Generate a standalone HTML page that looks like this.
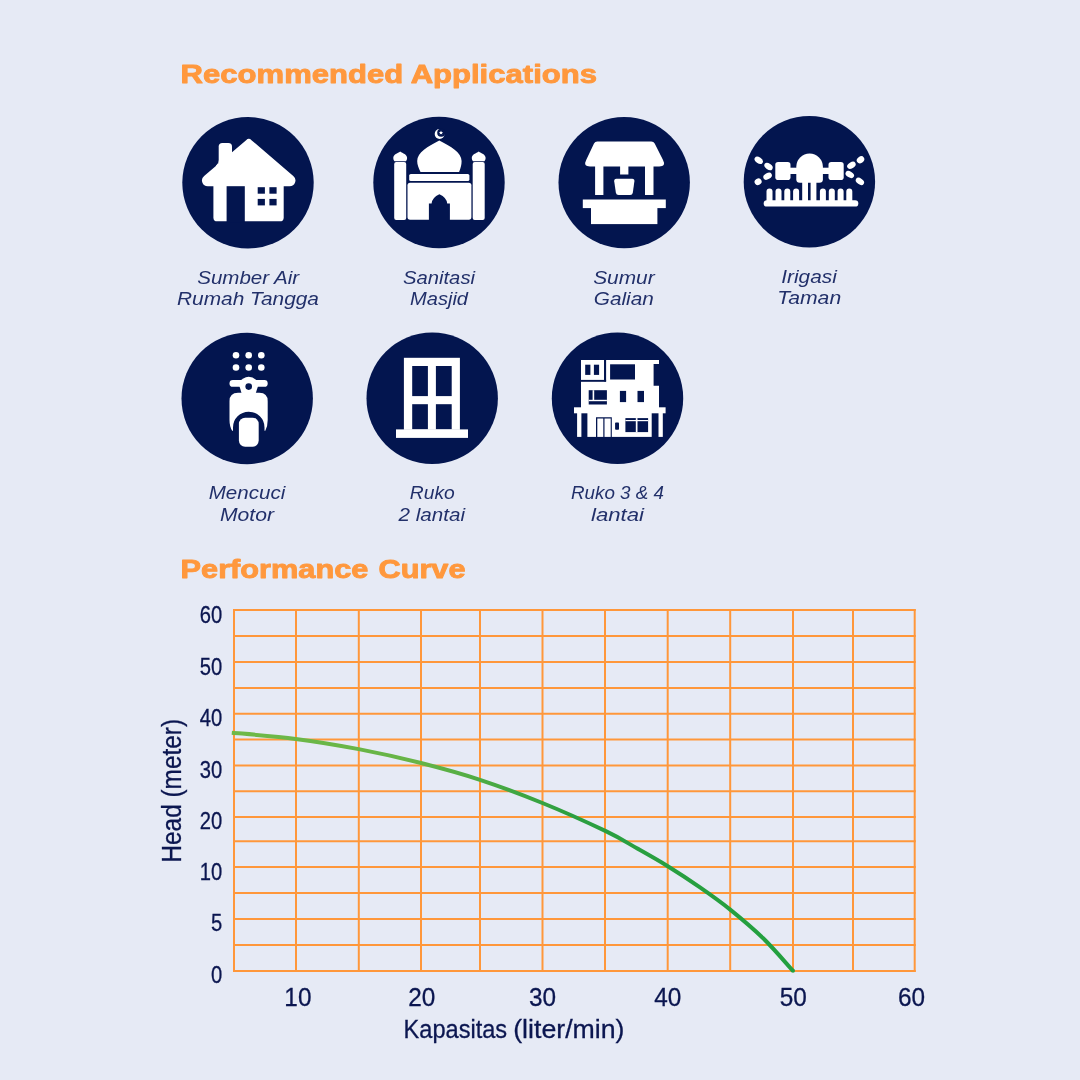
<!DOCTYPE html>
<html lang="id"><head><meta charset="utf-8"><title>Recommended Applications</title>
<style>
html,body{margin:0;padding:0;background:#E6EAF5;}
body{width:1080px;height:1080px;overflow:hidden;font-family:"Liberation Sans",sans-serif;}
svg{display:block;}
text{font-family:"Liberation Sans",sans-serif;}
.h{font-weight:bold;fill:#FF983D;stroke:#FF983D;stroke-width:0.9px;stroke-linejoin:round;}
.lb{font-style:italic;fill:#22306A;text-anchor:middle;}
.ax{fill:#0B1650;stroke:#0B1650;stroke-width:0.3px;}
.w{fill:#fff;}
.d{fill:#03154F;}
</style></head><body>
<svg width="1080" height="1080" viewBox="0 0 1080 1080">
<rect width="1080" height="1080" fill="#E6EAF5"/>
<text class="h" transform="translate(180.6,83.2) scale(1.218,1.0)" font-size="25.5">Recommended Applications</text>
<text class="h" transform="translate(180.6,577.5) scale(1.205,1.0)" font-size="25.5" word-spacing="1.3">Performance Curve</text>
<circle cx="248" cy="182.8" r="65.7" fill="#03154F"/>
<circle cx="439" cy="182.5" r="65.7" fill="#03154F"/>
<circle cx="624.2" cy="182.6" r="65.7" fill="#03154F"/>
<circle cx="809.4" cy="181.7" r="65.7" fill="#03154F"/>
<circle cx="247.2" cy="398.5" r="65.7" fill="#03154F"/>
<circle cx="432.2" cy="398.2" r="65.7" fill="#03154F"/>
<circle cx="617.5" cy="398.2" r="65.7" fill="#03154F"/>
<g id="house">
<path class="w" d="M246.1,140.2 Q248.800,137.5 251.5,140.200 L293.27,175.9 A5.8,5.8 0 0 1 289.500,186.2 L207.900,186.2 A5.8,5.8 0 0 1 204.130,175.900 Z"/>
<rect class="w" x="218.7" y="143" width="13.3" height="25" rx="3.6"/>
<path class="w" d="M218.800,160 Q218.800,163.400 215.800,165.900 L218.800,168 Z"/>
<path class="w" d="M213.4,185 H283.7 V217.4 Q283.7,221.3 279.8,221.3 H217.3 Q213.4,221.3 213.4,217.4 Z"/>
<rect class="d" x="226.6" y="186.2" width="18.2" height="36"/>
<rect class="d" x="257.7" y="187.2" width="7.2" height="6.5"/><rect class="d" x="269.4" y="187.2" width="7.2" height="6.5"/>
<rect class="d" x="257.7" y="198.9" width="7.2" height="6.5"/><rect class="d" x="269.4" y="198.9" width="7.2" height="6.5"/>
</g>
<g id="mosque">
<rect class="w" x="394.2" y="161.9" width="12" height="58" rx="2"/>
<rect class="w" x="472.7" y="161.9" width="12" height="58" rx="2"/>
<path class="w" d="M400.2,151.6 C397.6,153.3 393.3,154.8 393.3,157.8 C393.3,159.3 393.7,160.4 394.5,161.2 H405.9 C406.7,160.4 407.1,159.3 407.1,157.8 C407.1,154.8 402.8,153.3 400.2,151.6 Z"/>
<path class="w" d="M478.7,151.6 C476.1,153.3 471.8,154.8 471.8,157.8 C471.8,159.3 472.2,160.4 473.0,161.2 H484.4 C485.2,160.4 485.6,159.3 485.6,157.8 C485.6,154.8 481.3,153.3 478.7,151.6 Z"/>
<path class="w" d="M420.5,172 C418.5,168 417.2,164.500 417.2,161 C417.2,152 428,146.5 439.3,140.400 C450.6,146.5 461.6,152 461.6,161 C461.6,164.5 460.800,168 459.1,172 Z"/>
<circle class="w" cx="439.6" cy="134" r="4.9"/><circle class="d" cx="441.2" cy="132.700" r="4"/>
<path class="w" d="M441.00,130.40 L441.59,131.89 L443.19,131.99 L441.95,133.01 L442.35,134.56 L441.00,133.70 L439.65,134.56 L440.05,133.01 L438.81,131.99 L440.41,131.89 Z"/>
<rect class="w" x="409.2" y="174" width="60.2" height="7" rx="1.6"/>
<rect class="w" x="407.5" y="182.7" width="63.9" height="37" rx="2.6"/>
<path class="d" d="M428.9,221 V203.6 H431.6 Q432,197.5 439.4,194.2 Q446.8,197.5 447.2,203.6 H449.9 V221 Z"/>
</g>
<g id="well">
<path class="w" d="M597.3,141.6 H651.3 Q653.6,141.6 654.7,143.6 L662.9,159.8 Q666.4,166.5 659.300,166.5 H589.9 Q582.8,166.5 586.3,159.8 L594,143.6 Q595,141.6 597.3,141.6 Z"/>
<rect class="w" x="595.1" y="166" width="8.3" height="29"/>
<rect class="w" x="645" y="166" width="8.5" height="29"/>
<rect class="w" x="620.1" y="166" width="8.3" height="8.5"/>
<path class="w" d="M616.4,178.8 H632.2 Q634.7,178.8 634.4,181.3 L632.8,192.7 Q632.4,195 630.1,195 H618.6 Q616.3,195 615.9,192.7 L614.2,181.3 Q613.9,178.8 616.4,178.8 Z"/>
<rect class="w" x="582.8" y="199.5" width="83" height="8.6"/>
<rect class="w" x="591" y="207.9" width="66.4" height="16.2"/>
</g>
<g id="sprinkler">
<rect class="w" x="763.7" y="200.2" width="94.6" height="6.4" rx="3.2"/>
<path class="w" d="M766.5,203 V191.5 A3,3 0 0 1 772.5,191.5 V203 Z"/>
<path class="w" d="M775.5,203 V191.5 A3,3 0 0 1 781.5,191.5 V203 Z"/>
<path class="w" d="M784.3,203 V191.5 A3,3 0 0 1 790.3,191.5 V203 Z"/>
<path class="w" d="M793.1,203 V191.5 A3,3 0 0 1 799.1,191.5 V203 Z"/>
<path class="w" d="M819.9,203 V191.5 A3,3 0 0 1 825.9,191.5 V203 Z"/>
<path class="w" d="M828.8,203 V191.5 A3,3 0 0 1 834.8,191.5 V203 Z"/>
<path class="w" d="M837.6,203 V191.5 A3,3 0 0 1 843.6,191.5 V203 Z"/>
<path class="w" d="M846.3,203 V191.5 A3,3 0 0 1 852.3,191.5 V203 Z"/>
<rect class="w" x="802.2" y="180" width="5.8" height="22"/><rect class="w" x="810.6" y="180" width="5.8" height="22"/>
<path class="w" d="M796.3,166.8 A13.3,13.3 0 0 1 822.9,166.8 V179.200 Q822.9,182.7 819.4,182.7 H799.8 Q796.3,182.7 796.3,179.2 Z"/>
<rect class="w" x="788" y="167.7" width="43" height="6.3"/>
<rect class="w" x="775.3" y="161.9" width="15.2" height="18.2" rx="2.8"/>
<rect class="w" x="828.5" y="161.9" width="15.2" height="18.2" rx="2.8"/>
<ellipse class="w" cx="758.7" cy="160.3" rx="4.6" ry="3.0" transform="rotate(35 758.7 160.3)"/>
<ellipse class="w" cx="768.5" cy="166.5" rx="4.6" ry="3.0" transform="rotate(35 768.5 166.5)"/>
<ellipse class="w" cx="767.6" cy="176.2" rx="4.6" ry="3.0" transform="rotate(-30 767.6 176.2)"/>
<ellipse class="w" cx="758.1" cy="181.7" rx="3.6" ry="3.2" transform="rotate(-30 758.1 181.7)"/>
<ellipse class="w" cx="860.5" cy="159.8" rx="4.0" ry="3.2" transform="rotate(-35 860.5 159.8)"/>
<ellipse class="w" cx="851.4" cy="165.3" rx="4.6" ry="3.0" transform="rotate(-30 851.4 165.3)"/>
<ellipse class="w" cx="849.8" cy="174.5" rx="4.6" ry="3.0" transform="rotate(30 849.8 174.5)"/>
<ellipse class="w" cx="859.9" cy="181.4" rx="4.6" ry="3.0" transform="rotate(35 859.9 181.4)"/>
</g>
<g id="scooter">
<circle class="w" cx="236" cy="355.2" r="3.3"/>
<circle class="w" cx="236" cy="367.5" r="3.3"/>
<circle class="w" cx="248.7" cy="355.2" r="3.3"/>
<circle class="w" cx="248.7" cy="367.5" r="3.3"/>
<circle class="w" cx="261.3" cy="355.2" r="3.3"/>
<circle class="w" cx="261.3" cy="367.5" r="3.3"/>
<rect class="w" x="229.5" y="380.1" width="38.2" height="6.700" rx="3.35"/>
<path class="w" d="M238.5,383 Q243,377 248.7,376.8 Q254.500,377 259,383 L255.5,394 H241.800 Z"/>
<circle class="d" cx="248.7" cy="386.6" r="3.3"/>
<path class="w" d="M238,392.8 H259.4 Q267.700,392.800 267.700,401.300 V420 Q267.7,426.500 265.300,430.800 L264.5,430.800 V427.4 A15.75,15.75 0 0 0 233,427.400 V430.8 L232.2,430.800 Q229.500,426.500 229.500,420 V401.3 Q229.5,392.8 238,392.8 Z"/>
<rect class="w" x="238.9" y="417.7" width="19.8" height="29.1" rx="6.2"/>
</g>
<g id="window">
<rect class="w" x="403.9" y="357.8" width="56" height="72"/>
<rect class="w" x="396" y="429.4" width="72" height="8.5"/>
<rect class="d" x="412.2" y="366" width="15.7" height="30.1"/><rect class="d" x="435.9" y="366" width="15.8" height="30.1"/>
<rect class="d" x="412.2" y="404.2" width="15.7" height="24.900"/><rect class="d" x="435.9" y="404.2" width="15.8" height="24.9"/>
</g>
<g id="building">
<rect class="w" x="581" y="360" width="23.2" height="21"/>
<rect class="d" x="585.2" y="364.7" width="5.2" height="10.2"/><rect class="d" x="593.9" y="364.7" width="5.2" height="10.2"/>
<path class="w" d="M606,360 H659 V363.9 H653.600 V385.8 H659 V408 H581 V380.5 H606 Z"/>
<rect class="d" x="610.1" y="364.3" width="24.9" height="15.2"/>
<rect class="d" x="581" y="379.9" width="25.1" height="1.9"/><rect class="d" x="604.1" y="359" width="2" height="22.5"/>
<rect class="d" x="588.7" y="390.2" width="18.2" height="14.3"/>
<rect class="w" x="592.6" y="390.2" width="1.6" height="10"/><rect class="w" x="588.7" y="399.8" width="18.2" height="1.4"/>
<rect class="d" x="619.9" y="390.9" width="6.2" height="11.2"/><rect class="d" x="637.5" y="390.9" width="6.5" height="11.2"/>
<rect class="w" x="574" y="407.3" width="91.600" height="6"/>
<rect class="w" x="577.1" y="413" width="4.3" height="23.900"/><rect class="w" x="658.5" y="413" width="4.3" height="23.9"/>
<rect class="w" x="587.4" y="413" width="64.300" height="23.9"/>
<path class="d" fill-rule="evenodd" d="M596,417.2 H611.8 V436.9 H596 Z M597.300,418.500 V436.900 H603.300 V418.500 Z M604.500,418.500 V436.900 H610.700 V418.500 Z"/>
<rect class="d" x="615.1" y="422.4" width="3.9" height="7.4" rx="0.8"/>
<rect class="d" x="625.4" y="418.100" width="22.7" height="14"/>
<rect class="w" x="635.8" y="418.1" width="1.700" height="14"/><rect class="w" x="625.4" y="420" width="22.7" height="1.2"/>
</g>
<text class="lb" x="248.2" y="284" font-size="18" textLength="102" lengthAdjust="spacingAndGlyphs">Sumber Air</text>
<text class="lb" x="248" y="305" font-size="18" textLength="142" lengthAdjust="spacingAndGlyphs">Rumah Tangga</text>
<text class="lb" x="439" y="284" font-size="18" textLength="72" lengthAdjust="spacingAndGlyphs">Sanitasi</text>
<text class="lb" x="439" y="305" font-size="18" textLength="58" lengthAdjust="spacingAndGlyphs">Masjid</text>
<text class="lb" x="623.9" y="284" font-size="18" textLength="61.5" lengthAdjust="spacingAndGlyphs">Sumur</text>
<text class="lb" x="623.8" y="305" font-size="18" textLength="60" lengthAdjust="spacingAndGlyphs">Galian</text>
<text class="lb" x="809" y="283" font-size="18" textLength="55.5" lengthAdjust="spacingAndGlyphs">Irigasi</text>
<text class="lb" x="809.2" y="304.3" font-size="18" textLength="64" lengthAdjust="spacingAndGlyphs">Taman</text>
<text class="lb" x="247" y="499.4" font-size="18" textLength="76.5" lengthAdjust="spacingAndGlyphs">Mencuci</text>
<text class="lb" x="247" y="520.5" font-size="18" textLength="54" lengthAdjust="spacingAndGlyphs">Motor</text>
<text class="lb" x="432.3" y="499.4" font-size="18" textLength="45" lengthAdjust="spacingAndGlyphs">Ruko</text>
<text class="lb" x="431.8" y="520.5" font-size="18" textLength="66.5" lengthAdjust="spacingAndGlyphs">2 lantai</text>
<text class="lb" x="617.5" y="499.4" font-size="18" textLength="93" lengthAdjust="spacingAndGlyphs">Ruko 3 &amp; 4</text>
<text class="lb" x="617.5" y="520.5" font-size="18" textLength="53" lengthAdjust="spacingAndGlyphs">lantai</text>
<g stroke="#FF973A" stroke-width="2" fill="none">
<line x1="234" y1="609" x2="234" y2="972"/>
<line x1="296" y1="609" x2="296" y2="972"/>
<line x1="358.8" y1="609" x2="358.8" y2="972"/>
<line x1="421" y1="609" x2="421" y2="972"/>
<line x1="480" y1="609" x2="480" y2="972"/>
<line x1="542.5" y1="609" x2="542.5" y2="972"/>
<line x1="605" y1="609" x2="605" y2="972"/>
<line x1="667.7" y1="609" x2="667.7" y2="972"/>
<line x1="730.2" y1="609" x2="730.2" y2="972"/>
<line x1="793" y1="609" x2="793" y2="972"/>
<line x1="853" y1="609" x2="853" y2="972"/>
<line x1="914.7" y1="609" x2="914.7" y2="972"/>
<line x1="233" y1="610" x2="915.7" y2="610"/>
<line x1="233" y1="636" x2="915.7" y2="636"/>
<line x1="233" y1="662" x2="915.7" y2="662"/>
<line x1="233" y1="688" x2="915.7" y2="688"/>
<line x1="233" y1="713.8" x2="915.7" y2="713.8"/>
<line x1="233" y1="739.6" x2="915.7" y2="739.6"/>
<line x1="233" y1="765.4" x2="915.7" y2="765.4"/>
<line x1="233" y1="791.2" x2="915.7" y2="791.2"/>
<line x1="233" y1="817" x2="915.7" y2="817"/>
<line x1="233" y1="841.2" x2="915.7" y2="841.2"/>
<line x1="233" y1="867" x2="915.7" y2="867"/>
<line x1="233" y1="893" x2="915.7" y2="893"/>
<line x1="233" y1="919" x2="915.7" y2="919"/>
<line x1="233" y1="945" x2="915.7" y2="945"/>
<line x1="233" y1="971" x2="915.7" y2="971"/>
</g>
<defs><linearGradient id="cg" gradientUnits="userSpaceOnUse" x1="232" y1="0" x2="794" y2="0">
<stop offset="0" stop-color="#6EB948"/><stop offset="0.33" stop-color="#66B446"/><stop offset="0.6" stop-color="#2C9F40"/><stop offset="1" stop-color="#22A03F"/></linearGradient></defs>
<path d="M231.8,732.7 C242.5,733.7 274.6,736.2 295.7,738.9 C316.8,741.6 337.8,745.1 358.7,749.1 C379.6,753.1 400.8,757.9 421,763 C441.2,768.1 459.8,773.1 480,779.8 C500.2,786.5 521.5,794.5 542.4,803 C563.3,811.5 589.5,823.4 605.3,830.9 C621.0,838.4 626.5,842.4 636.9,848.3 C647.2,854.1 656.9,859.5 667.4,866 C677.9,872.5 689.5,880.1 700,887.4 C710.5,894.7 719.7,901.1 730.2,909.6 C740.7,918.1 752.7,928.1 763.2,938.3 C773.7,948.5 788.0,965.4 793,970.8" fill="none" stroke="url(#cg)" stroke-width="4" stroke-linecap="butt"/>
<circle cx="793" cy="970.8" r="2" fill="#22A03F"/>
<text class="ax" transform="translate(222.3,622.8) scale(0.87,1.0)" font-size="23.2" text-anchor="end">60</text>
<text class="ax" transform="translate(222.3,674.5) scale(0.87,1.0)" font-size="23.2" text-anchor="end">50</text>
<text class="ax" transform="translate(222.3,726.3) scale(0.87,1.0)" font-size="23.2" text-anchor="end">40</text>
<text class="ax" transform="translate(222.3,777.9) scale(0.87,1.0)" font-size="23.2" text-anchor="end">30</text>
<text class="ax" transform="translate(222.3,829.3) scale(0.87,1.0)" font-size="23.2" text-anchor="end">20</text>
<text class="ax" transform="translate(222.3,879.9) scale(0.87,1.0)" font-size="23.2" text-anchor="end">10</text>
<text class="ax" transform="translate(222.3,931.2) scale(0.87,1.0)" font-size="23.2" text-anchor="end">5</text>
<text class="ax" transform="translate(222.3,983.3) scale(0.87,1.0)" font-size="23.2" text-anchor="end">0</text>
<text class="ax" transform="translate(297.9,1006.2) scale(0.955,1.0)" font-size="25.5" text-anchor="middle">10</text>
<text class="ax" transform="translate(421.8,1006.2) scale(0.955,1.0)" font-size="25.5" text-anchor="middle">20</text>
<text class="ax" transform="translate(542.6,1006.2) scale(0.955,1.0)" font-size="25.5" text-anchor="middle">30</text>
<text class="ax" transform="translate(667.8,1006.2) scale(0.955,1.0)" font-size="25.5" text-anchor="middle">40</text>
<text class="ax" transform="translate(793.2,1006.2) scale(0.955,1.0)" font-size="25.5" text-anchor="middle">50</text>
<text class="ax" transform="translate(911.5,1006.2) scale(0.955,1.0)" font-size="25.5" text-anchor="middle">60</text>
<text class="ax" transform="translate(180.6,862.6) rotate(-90) scale(0.871,1)" font-size="28">Head (meter)</text>
<text class="ax" transform="translate(403.6,1038) scale(0.9,1.0)" font-size="26.2">Kapasitas</text>
<text class="ax" transform="translate(513.2,1038) scale(1.02,1.0)" font-size="26.2">(liter/min)</text>
</svg>
</body></html>
